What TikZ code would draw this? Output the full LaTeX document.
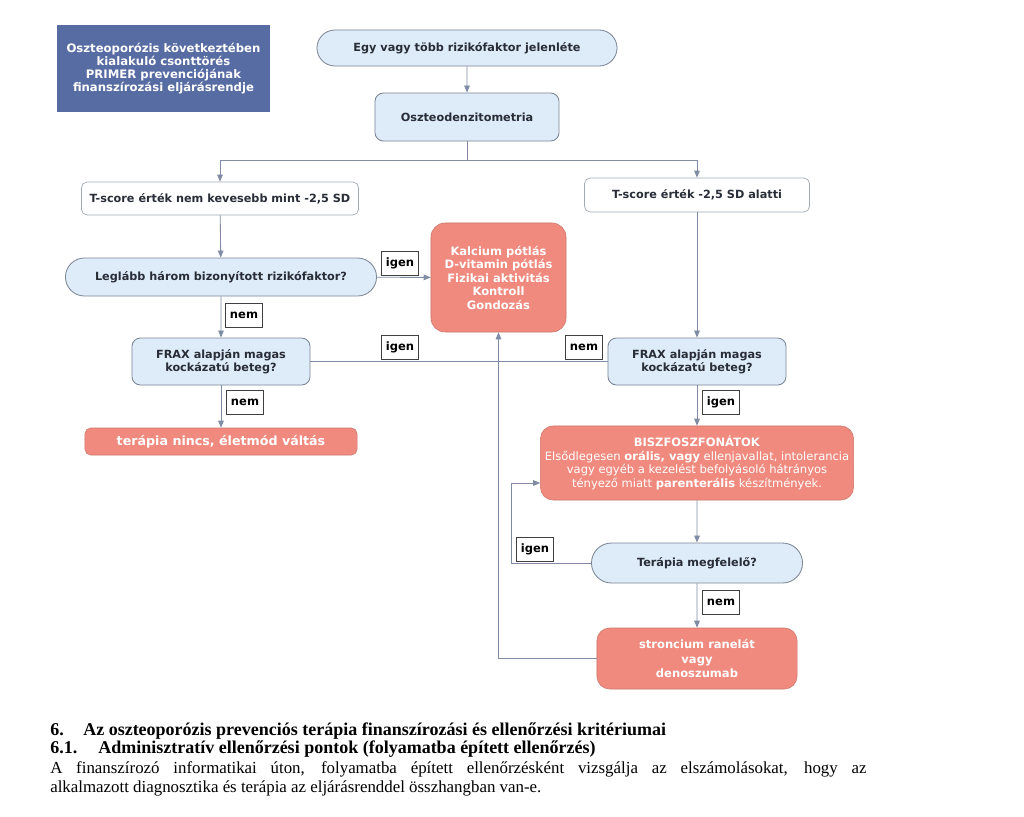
\documentclass[tikz,border=0pt]{standalone}
\usepackage{fontspec}
\setmainfont{Liberation Serif}
\newfontfamily\boxfont{DejaVu Sans}
\usetikzlibrary{arrows.meta,shapes.misc}

\definecolor{titleblue}{RGB}{88,108,164}
\definecolor{paleblue}{RGB}{222,235,248}
\definecolor{salmon}{RGB}{240,138,126}
\definecolor{boxedge}{RGB}{125,135,150}
\definecolor{flowline}{RGB}{128,140,165}
\definecolor{boxtext}{RGB}{40,45,55}

\tikzset{
  boxtxt/.style={font=\boxfont\bfseries\fontsize{8}{9.2}\selectfont, text=boxtext, align=center, inner sep=0pt},
  pill/.style={boxtxt, rounded rectangle, draw=boxedge, fill=paleblue, line width=0.6pt},
  question/.style={boxtxt, rectangle, rounded corners=6pt, draw=boxedge, fill=paleblue, line width=0.6pt},
  plainbox/.style={boxtxt, rectangle, rounded corners=4pt, draw=boxedge!70, fill=white, line width=0.5pt},
  todo/.style={boxtxt, rectangle, rounded corners=7pt, fill=salmon, draw=salmon!85!black, line width=0.4pt, text=white},
  answer/.style={font=\boxfont\bfseries\fontsize{8.2}{9}\selectfont, draw=black!75, fill=white, line width=0.6pt, minimum width=0.925cm, minimum height=0.6cm, inner sep=0pt},
  flow/.style={draw=flowline, line width=0.6pt},
  arr/.style={flow, -{Triangle[length=5pt,width=4pt]}}
}

\begin{document}
\begin{tikzpicture}[x=0.025cm, y=-0.025cm]

  \useasboundingbox[fill=white] (0,0) rectangle (1024,816);

  % Title box
  \node[boxtxt, fill=titleblue, text=white, minimum width=5.325cm, minimum height=2.175cm,
        font=\boxfont\bfseries\fontsize{8.3}{9.2}\selectfont] (title) at (163.5,68.5)
    {Oszteoporózis következtében\\kialakuló csonttörés\\PRIMER prevenciójának\\finanszírozási eljárásrendje};

  % Flow nodes
  \node[pill, minimum width=7.5cm, minimum height=0.9cm] (risk) at (467,48) {Egy vagy több rizikófaktor jelenléte};
  \node[question, minimum width=4.6cm, minimum height=1.2cm] (oszteo) at (467,117) {Oszteodenzitometria};
  \node[plainbox, minimum width=6.925cm, minimum height=0.825cm] (tleft) at (220,198.5) {T-score érték nem kevesebb mint -2,5 SD};
  \node[plainbox, minimum width=5.625cm, minimum height=0.85cm] (tright) at (697,195) {T-score érték -2,5 SD alatti};
  \node[pill, minimum width=7.775cm, minimum height=0.95cm] (three) at (221,277) {Leglább három bizonyított rizikófaktor?};
  \node[todo, rounded corners=10pt, minimum width=3.375cm, minimum height=2.725cm,
        font=\boxfont\bfseries\fontsize{8.2}{9.6}\selectfont] (kalc) at (498.5,277.5)
    {Kalcium pótlás\\D-vitamin pótlás\\Fizikai aktivitás\\Kontroll\\Gondozás};
  \node[question, minimum width=4.45cm, minimum height=1.175cm] (fraxl) at (221,361.5) {FRAX alapján magas\\kockázatú beteg?};
  \node[question, minimum width=4.45cm, minimum height=1.175cm] (fraxr) at (697,361.5) {FRAX alapján magas\\kockázatú beteg?};
  \node[todo, rounded corners=4pt, minimum width=6.8cm, minimum height=0.675cm,
        font=\boxfont\bfseries\fontsize{9}{10}\selectfont] (none) at (221,441.5) {terápia nincs, életmód váltás};
  \node[todo, rounded corners=9pt, minimum width=7.825cm, minimum height=1.85cm,
        font=\boxfont\fontsize{8.2}{9.7}\selectfont] (bisz) at (697,463)
    {\textbf{BISZFOSZFONÁTOK}\\Elsődlegesen \textbf{orális, vagy} ellenjavallat, intolerancia\\vagy egyéb a kezelést befolyásoló hátrányos\\tényező miatt \textbf{parenterális} készítmények.};
  \node[pill, minimum width=5.275cm, minimum height=1.0cm] (fit) at (697,563) {Terápia megfelelő?};
  \node[todo, rounded corners=9pt, minimum width=5.0cm, minimum height=1.525cm,
        font=\boxfont\bfseries\fontsize{8.2}{10}\selectfont] (stron) at (697,658.5)
    {stroncium ranelát\\vagy\\denoszumab};

  % Helper coordinates
  \coordinate (split) at (467,160);
  \coordinate (loop) at (511,563);

  % Connectors
  \draw[arr] (risk) -- (oszteo);
  \draw[flow] (oszteo) -- (split);
  \draw[arr] (split) -| (tleft);
  \draw[arr] (split) -| (tright);
  \draw[arr] (tleft) -- (three);
  \draw[arr] (three) -- (kalc);
  \draw[arr] (three) -- (fraxl);
  \draw[flow] (fraxl) -- (fraxr);
  \draw[arr] (tright) -- (fraxr);
  \draw[arr] (fraxl) -- (none);
  \draw[arr] (fraxr) -- (bisz);
  \draw[arr] (bisz) -- (fit);
  \draw[arr] (fit) -- (stron);
  \draw[arr] (fit.west) -- (loop) |- ([yshift=-0.5cm]bisz.west);
  \draw[arr] (stron.west) -| (kalc.south);

  % Answer labels
  \node[answer] (a1) at (400,263) {igen};
  \node[answer] (a2) at (244,315) {nem};
  \node[answer] (a3) at (400,347) {igen};
  \node[answer] (a4) at (584,347) {nem};
  \node[answer] (a5) at (245,402) {nem};
  \node[answer] (a6) at (721,402) {igen};
  \node[answer] (a7) at (535,549) {igen};
  \node[answer] (a8) at (721,602) {nem};

  % Text below the chart
  \node[anchor=base west, inner sep=0pt, font=\bfseries\fontsize{12.8}{14}\selectfont] (sec) at (50,735)
    {\makebox[0.825cm][l]{6.}Az oszteoporózis prevenciós terápia finanszírozási és ellenőrzési kritériumai};
  \node[anchor=base west, inner sep=0pt, font=\bfseries\fontsize{12.8}{14}\selectfont] (subsec) at (50,753)
    {\makebox[1.2cm][l]{6.1.}Adminisztratív ellenőrzési pontok (folyamatba épített ellenőrzés)};
  \node[anchor=base west, inner sep=0pt, font=\fontsize{12}{13.5}\selectfont] (para1) at (50,773)
    {\makebox[20.4cm][s]{A finanszírozó informatikai úton, folyamatba épített ellenőrzésként vizsgálja az elszámolásokat, hogy az}};
  \node[anchor=base west, inner sep=0pt, font=\fontsize{12}{13.5}\selectfont] (para2) at (50,792)
    {alkalmazott diagnosztika és terápia az eljárásrenddel összhangban van-e.};

\end{tikzpicture}
\end{document}
